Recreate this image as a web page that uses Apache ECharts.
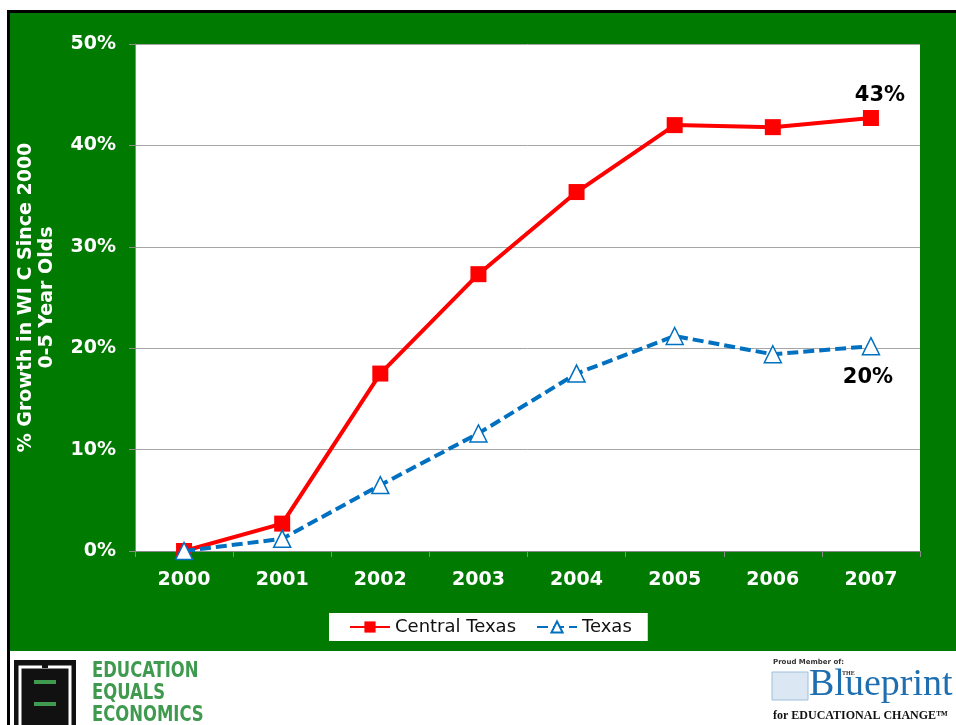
<!DOCTYPE html>
<html>
<head>
<meta charset="utf-8">
<script src="https://cdn.jsdelivr.net/npm/echarts@6/dist/echarts.min.js"></script>
<style>
  html, body { margin: 0; padding: 0; background: #fff; }
  #chart { width: 956px; height: 725px; }
</style>
</head>
<body>
<div id="chart"></div>
<script>
// data
var years = ["2000", "2001", "2002", "2003", "2004", "2005", "2006", "2007"];
var centralTexas = [0, 2.7, 17.5, 27.3, 35.4, 42.0, 41.8, 42.7];
var texas = [0, 1.2, 6.5, 11.6, 17.5, 21.2, 19.4, 20.2];
var yTicks = [0, 10, 20, 30, 40, 50];

var green = "#007a00";
var labelFont = "DejaVu Sans";

// only the last point of each line gets a value label
function withEndLabel(arr, pos, offset) {
  return arr.map(function (v, i) {
    if (i !== arr.length - 1) return v;
    return {
      value: v,
      label: {
        show: true,
        position: pos,
        offset: offset,
        distance: 8,
        formatter: function (p) { return Math.round(p.value) + "%"; },
        color: "#000",
        fontFamily: labelFont,
        fontWeight: "bold",
        fontSize: 21
      }
    };
  });
}

var myChart = echarts.init(document.getElementById("chart"));

var eeeFont = "bold 22px 'DejaVu Sans Condensed'";

var opt = {
  backgroundColor: "#fff",
  animation: false,
  graphic: [
    // black frame + green panel
    { type: "rect", z: -10, shape: { x: 7, y: 10, width: 960, height: 3 }, style: { fill: "#000" } },
    { type: "rect", z: -10, shape: { x: 7, y: 10, width: 3, height: 720 }, style: { fill: "#000" } },
    { type: "rect", z: -10, shape: { x: 10, y: 13, width: 950, height: 638 }, style: { fill: green } },
    // plot background
    { type: "rect", z: -5, shape: { x: 135, y: 44, width: 785, height: 507 }, style: { fill: "#fff" } },

    // Education Equals Economics logo
    { type: "rect", shape: { x: 14, y: 660, width: 62, height: 70 }, style: { fill: "#111" } },
    { type: "rect", shape: { x: 20, y: 667, width: 50, height: 60 }, style: { fill: "none", stroke: "#fff", lineWidth: 3 } },
    { type: "rect", shape: { x: 28, y: 675, width: 34, height: 50 }, style: { fill: "#111" } },
    { type: "rect", shape: { x: 34, y: 680, width: 22, height: 4 }, style: { fill: "#3f9a4f" } },
    { type: "rect", shape: { x: 34, y: 702, width: 22, height: 4 }, style: { fill: "#3f9a4f" } },
    { type: "rect", shape: { x: 42, y: 660, width: 6, height: 8 }, style: { fill: "#111" } },
    {
      type: "group",
      x: 92, y: 660,
      scaleX: 0.83,
      children: [
        { type: "text", x: 0, y: 0, style: { text: "EDUCATION", fill: "#3f9a4f", font: eeeFont } },
        { type: "text", x: 0, y: 22, style: { text: "EQUALS", fill: "#3f9a4f", font: eeeFont } },
        { type: "text", x: 0, y: 44, style: { text: "ECONOMICS", fill: "#3f9a4f", font: eeeFont } }
      ]
    },

    // Blueprint logo
    { type: "text", left: 773, top: 659, style: { text: "Proud Member of:", fill: "#333", font: "bold 7px 'DejaVu Sans'" } },
    { type: "text", left: 842, top: 670, style: { text: "THE", fill: "#333", font: "bold 6px 'Liberation Serif'" } },
    { type: "rect", shape: { x: 772, y: 672, width: 36, height: 28 }, style: { fill: "#dbe8f3", stroke: "#9fbfdc", lineWidth: 1 } },
    { type: "text", left: 809, top: 666, style: { text: "Blueprint", fill: "#1f6fb0", font: "38px 'Liberation Serif'" } },
    { type: "text", left: 773, top: 710, style: { text: "for EDUCATIONAL CHANGE\u2122", fill: "#111", font: "bold 12px 'Liberation Serif'" } }
  ],
  grid: {
    left: 135,
    right: 36,
    top: 44,
    bottom: 174,
    outerBoundsMode: "none"
  },
  legend: {
    left: 329,
    top: 613,
    width: 316,
    height: 30,
    backgroundColor: "#fff",
    padding: [5, 16, 5, 20],
    itemGap: 20,
    itemWidth: 40,
    itemHeight: 14,
    textStyle: { color: "#111", fontFamily: labelFont, fontSize: 18 },
    data: ["Central Texas", "Texas"]
  },
  xAxis: {
    type: "category",
    data: years,
    boundaryGap: true,
    axisLine: { show: true, lineStyle: { color: "#8a8a8a", width: 1 } },
    axisTick: { show: true, length: 6, interval: 0, lineStyle: { color: "#8a8a8a" } },
    axisLabel: {
      color: "#fff",
      fontFamily: labelFont,
      fontWeight: "bold",
      fontSize: 19,
      margin: 20,
      interval: 0
    }
  },
  yAxis: {
    type: "value",
    min: yTicks[0],
    max: yTicks[yTicks.length - 1],
    interval: 10,
    name: "% Growth in WI C Since 2000\n0-5 Year Olds",
    nameLocation: "middle",
    nameRotate: 90,
    nameGap: 77,
    nameTextStyle: {
      color: "#fff",
      fontFamily: labelFont,
      fontWeight: "bold",
      fontSize: 19,
      lineHeight: 21,
      align: "center"
    },
    axisLine: { show: true, lineStyle: { color: "#8a8a8a", width: 1 } },
    axisTick: { show: true, length: 6, lineStyle: { color: "#8a8a8a" } },
    axisLabel: {
      color: "#fff",
      fontFamily: labelFont,
      fontWeight: "bold",
      fontSize: 19,
      margin: 19,
      formatter: "{value}%"
    },
    splitLine: { show: true, lineStyle: { color: "#a6a6a6", width: 1 } }
  },
  series: [
    {
      name: "Central Texas",
      type: "line",
      data: withEndLabel(centralTexas, "top", [9, 4]),
      symbol: "rect",
      symbolSize: 16,
      lineStyle: { color: "#ff0000", width: 4 },
      itemStyle: { color: "#ff0000" },
      z: 3
    },
    {
      name: "Texas",
      type: "line",
      data: withEndLabel(texas, "bottom", [-3, 4]),
      symbol: "triangle",
      symbolSize: 17,
      lineStyle: { color: "#0070c0", width: 4, type: [11, 5] },
      itemStyle: { color: "#fff", borderColor: "#0070c0", borderWidth: 1.5 },
      z: 4
    }
  ]
};

myChart.setOption(opt);
</script>
</body>
</html>
